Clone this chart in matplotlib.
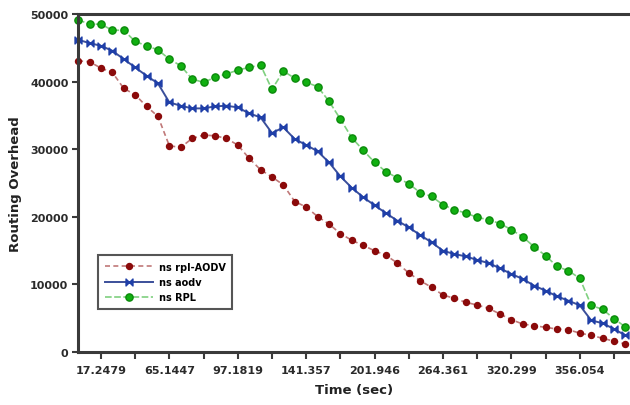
import numpy as np
import matplotlib
matplotlib.use("Agg")
import matplotlib.pyplot as plt
from matplotlib.path import Path

# routing overhead per sample
rpl_aodv = [43080, 42940, 42000, 41370, 39000, 38060, 36340, 34860, 30510, 30270,
            31600, 32090, 31990, 31600, 30620, 28650, 26960, 25900, 24720, 22260,
            21450, 20040, 18930, 17520, 16530, 15770, 14980, 14300, 13160, 11680,
            10550, 9570, 8430, 7940, 7350, 6950, 6460, 5620, 4780, 4140,
            3890, 3650, 3400, 3300, 2790, 2460, 2030, 1600, 1180]
aodv = [46190, 45700, 45300, 44560, 43330, 42100, 40870, 39740, 36930, 36430,
        36040, 36040, 36340, 36430, 36190, 35300, 34710, 32390, 33230, 31500,
        30620, 29700, 28060, 25990, 24300, 22900, 21700, 20540, 19420, 18440,
        17300, 16220, 14980, 14490, 14150, 13610, 13160, 12380, 11540, 10800,
        9810, 9070, 8240, 7590, 6900, 4680, 4260, 3400, 2460]
rpl = [49150, 48500, 48500, 47600, 47600, 45950, 45300, 44700, 43330, 42350,
       40380, 39890, 40630, 41120, 41710, 42100, 42450, 38850, 41550, 40500,
       39890, 39270, 37100, 34460, 31700, 29850, 28060, 26670, 25760, 24900,
       23570, 23030, 21770, 21050, 20560, 19920, 19570, 19000, 18090, 17030,
       15550, 14250, 12670, 12020, 10900, 6900, 6300, 4930, 3700]

tick_idx = list(range(2, 48, 3))
tick_labels = ["17.2479", "", "65.1447", "", "97.1819", "", "141.357", "",
               "201.946", "", "264.361", "", "320.299", "", "356.054", ""]
y_ticks = [0, 10000, 20000, 30000, 40000, 50000]

x = np.arange(len(rpl))

# bowtie marker like the original
bowtie = Path([(-1, -1), (1, 1), (1, -1), (-1, 1), (-1, -1)],
              [Path.MOVETO, Path.LINETO, Path.LINETO, Path.LINETO, Path.CLOSEPOLY])

fig = plt.figure(figsize=(6.3, 4.06), dpi=100)
ax = fig.add_axes([0.124, 0.1305, 0.876, 0.8325])

ax.plot(x, rpl_aodv, linestyle=(0, (3, 2)), color="#c07878", linewidth=1.2,
        marker="o", markersize=4.3, markerfacecolor="#8b0a0a", markeredgecolor="#8b0a0a",
        label="ns rpl-AODV", clip_on=False)
ax.plot(x, aodv, linestyle="-", color="#3b4f9a", linewidth=1.4,
        marker=bowtie, markersize=5, markerfacecolor="#1f3fa8", markeredgecolor="#1f3fa8",
        label="ns aodv", clip_on=False)
ax.plot(x, rpl, linestyle=(0, (4, 1.5)), color="#7fd07f", linewidth=1.2,
        marker="o", markersize=5.2, markerfacecolor="#11b011", markeredgecolor="#0a8a0a",
        label="ns RPL", clip_on=False)

ax.set_xlim(0, 48.4)
ax.set_ylim(0, 50000)
ax.set_xticks(tick_idx)
ax.set_xticklabels(tick_labels)
ax.set_yticks(y_ticks)

for s in ["left", "bottom", "top"]:
    ax.spines[s].set_linewidth(2.2)
    ax.spines[s].set_color("#3a3a3a")
ax.spines["right"].set_visible(False)

ax.tick_params(axis="both", direction="out", width=1.5, color="#3a3a3a", labelsize=8)
ax.tick_params(axis="x", length=5, pad=4)
ax.tick_params(axis="y", length=4, pad=3)
for lab in ax.get_xticklabels() + ax.get_yticklabels():
    lab.set_fontweight("bold")
    lab.set_color("#2a2a2a")

ax.set_xlabel("Time (sec)", fontsize=9.5, fontweight="bold", color="#222222", labelpad=6)
ax.set_ylabel("Routing Overhead", fontsize=9.5, fontweight="bold", color="#222222", labelpad=6)

leg = ax.legend(loc="upper left", bbox_to_anchor=(0.028, 0.3), fancybox=False,
                prop={"size": 7, "weight": "bold"}, handlelength=5, handletextpad=0.6,
                labelspacing=0.55, borderpad=0.65, framealpha=1)
leg.get_frame().set_edgecolor("#555555")
leg.get_frame().set_linewidth(1.5)

fig.savefig("out.png", dpi=100)
